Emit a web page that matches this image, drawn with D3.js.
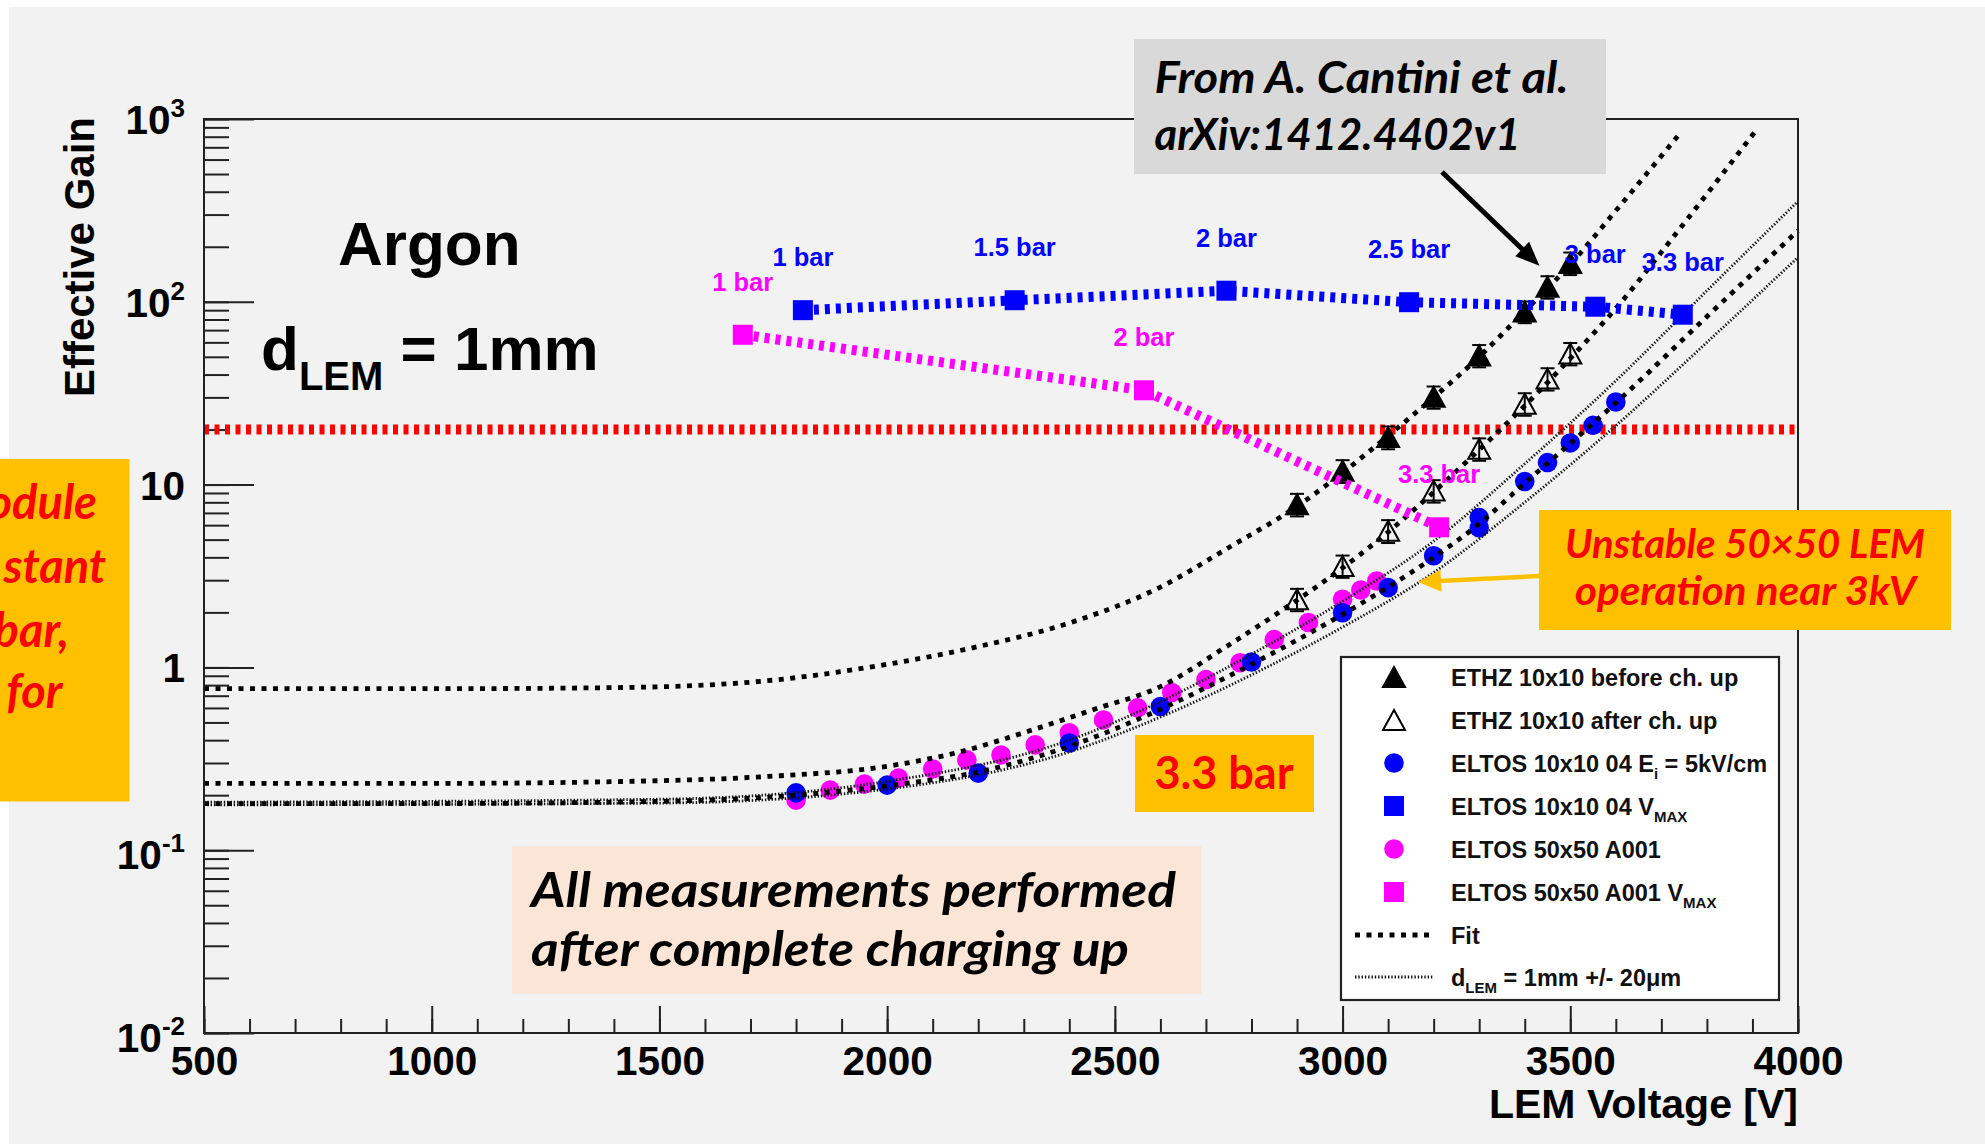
<!DOCTYPE html>
<html><head><meta charset="utf-8">
<script src="https://cdn.jsdelivr.net/npm/d3@7"></script>
<style>body{margin:0;background:#fff;overflow:hidden}svg{display:block}</style>
</head><body>
<svg id="c" width="1985" height="1144"></svg>
<script>
// ---------------- data ----------------
const xMajorTicks = [500,1000,1500,2000,2500,3000,3500,4000];
const yDecades = [0.01,0.1,1,10,100,1000];
const yLabelBase = ["10","10","1","10","10","10"];
const yLabelSup  = ["-2","-1","","","2","3"];

const threshold = 20;

const ethzBeforeV = [2900,3000,3100,3200,3300,3400,3450,3500];
const ethzBeforeG = [7.8,11.9,18.2,30.2,50.9,88.4,121,163];
const ethzBeforeErr = [1.1,1.7,2.6,4.2,7.1,12,17,23];

const ethzAfterV = [2900,3000,3100,3200,3300,3400,3450,3500];
const ethzAfterG = [2.36,3.59,5.59,9.27,15.7,27.7,38.0,52.2];
const ethzAfterErr = [0.33,0.5,0.8,1.3,2.2,3.9,5.3,7.3];

const eltos10V = [1800,2000,2200,2400,2600,2800,3000,3100,3200,3300,3300,3400,3450,3500,3550,3600];
const eltos10G = [0.206,0.227,0.264,0.386,0.611,1.07,1.99,2.73,4.08,5.8,6.6,10.4,13.2,16.9,21.1,28.3];

const eltos50V = [1800,1875,1950,2025,2100,2175,2250,2325,2400,2475,2550,2625,2700,2775,2850,2925,3000,3040,3075];
const eltos50G = [0.188,0.213,0.230,0.248,0.278,0.312,0.332,0.377,0.439,0.516,0.601,0.729,0.857,1.06,1.42,1.76,2.36,2.65,2.97];

const vmax10V = [1815,2280,2745,3146,3555,3747];
const vmax10G = [90,102,115,99.5,94,85];
const vmax10Labels = ["1 bar","1.5 bar","2 bar","2.5 bar","3 bar","3.3 bar"];

const vmax50V = [1683,2564,3212];
const vmax50G = [66,32.8,5.84];
const vmax50Labels = ["1 bar","2 bar","3.3 bar"];

const fitBefore = [[500,0.765],[1000,0.765],[1400,0.775],[1700,0.83],[2000,1.04],[2200,1.3],[2400,1.75],[2600,2.75],[2755,4.6],[2900,7.6],[3000,11.6],[3100,18.5],[3200,30],[3300,50],[3400,89],[3500,160],[3600,315],[3742,840]];
const fitAfter = [[500,0.232],[1000,0.232],[1500,0.24],[1723,0.252],[2016,0.292],[2162,0.346],[2308,0.446],[2455,0.59],[2601,0.787],[2747,1.31],[2864,2.03],[3000,3.5],[3100,5.5],[3200,9.1],[3300,15.5],[3400,27],[3500,49],[3600,92],[3742,254],[3907,861]];
const fitEltos = [[500,0.180],[1000,0.180],[1500,0.185],[1800,0.200],[2000,0.225],[2200,0.268],[2400,0.37],[2600,0.59],[2800,1.04],[3000,1.95],[3100,2.75],[3200,4.0],[3300,6.1],[3400,10.2],[3500,16.8],[3600,28],[3800,83],[4000,245]];
const dUpper = [[500,0.183],[1500,0.19],[2000,0.238],[2400,0.40],[2600,0.65],[2800,1.18],[3000,2.3],[3200,4.9],[3400,13],[3600,37],[3800,115],[4000,355]];
const dLower = [[500,0.177],[1500,0.181],[2000,0.216],[2400,0.345],[2600,0.535],[2800,0.91],[3000,1.66],[3200,3.3],[3400,8.0],[3600,21],[3800,60],[4000,175]];

// ---------------- setup ----------------
const W = 1985, H = 1144;
const HELV = "'Liberation Sans', Arial, Helvetica, sans-serif";
const CAL = "Lato, 'Open Sans', sans-serif";
const svg = d3.select("#c");
svg.append("rect").attr("width",W).attr("height",H).attr("fill","#fff");
svg.append("rect").attr("x",9).attr("y",7).attr("width",W-9).attr("height",H-7).attr("fill","#f2f2f2");

const x = d3.scaleLinear().domain([500,4000]).range([204,1798]);
const y = d3.scaleLog().domain([0.01,1000]).range([1033,119]);
const X0 = x.range()[0], X1 = x.range()[1], Y0 = y.range()[0], Y1 = y.range()[1];

// ---------------- axes ----------------
function styleAxis(g){
  g.select(".domain").remove();
  g.selectAll(".tick line").attr("stroke","#222").attr("stroke-width",2);
  g.selectAll("text").attr("font-family",HELV).attr("font-weight","bold").attr("fill","#000");
}
svg.append("g").attr("transform",`translate(0,${Y0})`)
  .call(d3.axisBottom(x).tickValues(x.ticks(35)).tickSize(-14).tickFormat(""))
  .call(styleAxis);
svg.append("g").attr("transform",`translate(0,${Y0})`)
  .call(d3.axisBottom(x).tickValues(xMajorTicks).tickSize(-27).tickPadding(13).tickFormat(d3.format("d")))
  .call(styleAxis)
  .call(g=>g.selectAll("text").attr("font-size",40.5));
svg.append("g").attr("transform",`translate(${X0},0)`)
  .call(d3.axisLeft(y).tickValues(y.ticks()).tickSize(-25).tickFormat(""))
  .call(styleAxis);
svg.append("g").attr("transform",`translate(${X0},0)`)
  .call(d3.axisLeft(y).tickValues(yDecades).tickSize(-50).tickFormat(""))
  .call(styleAxis);

yDecades.forEach((v,i)=>{
  const t = svg.append("text").attr("x",185).attr("y",y(v)+(v<1?19:15))
    .attr("text-anchor","end").attr("font-family",HELV).attr("font-weight","bold")
    .attr("font-size",40.5).attr("fill","#000");
  t.append("tspan").text(yLabelBase[i]);
  if (yLabelSup[i]) t.append("tspan").attr("font-size",26).attr("dy",-17).text(yLabelSup[i]);
});

svg.append("text").attr("transform",`translate(94,117) rotate(-90)`).attr("text-anchor","end")
  .attr("font-family",HELV).attr("font-weight","bold").attr("font-size",42).text("Effective Gain");
svg.append("text").attr("x",1798).attr("y",1118).attr("text-anchor","end")
  .attr("font-family",HELV).attr("font-weight","bold").attr("font-size",41).text("LEM Voltage [V]");

// ---------------- plot contents ----------------
const plot = svg.append("g");
plot.append("line").attr("x1",X0).attr("x2",X1).attr("y1",y(threshold)).attr("y2",y(threshold))
  .attr("stroke","#ff0000").attr("stroke-width",10).attr("stroke-dasharray","5,5.5");

// magenta circles then blue circles
plot.selectAll(".m50").data(d3.zip(eltos50V,eltos50G)).join("circle")
  .attr("cx",d=>x(d[0])).attr("cy",d=>y(d[1])).attr("r",9.8).attr("fill","#ff00ff");
plot.selectAll(".b10").data(d3.zip(eltos10V,eltos10G)).join("circle")
  .attr("cx",d=>x(d[0])).attr("cy",d=>y(d[1])).attr("r",9.8).attr("fill","#0000ff");

function triangles(V,G,E,filled){
  const g = plot.append("g").attr("stroke","#000").attr("stroke-width",2);
  d3.zip(V,G,E).forEach(([v,gn,e])=>{
    const cx = x(v), cy = y(gn), yt = y(gn+e), yb = y(gn-e);
    g.append("line").attr("x1",cx).attr("x2",cx).attr("y1",yt).attr("y2",yb);
    g.append("line").attr("x1",cx-7).attr("x2",cx+7).attr("y1",yt).attr("y2",yt);
    g.append("line").attr("x1",cx-7).attr("x2",cx+7).attr("y1",yb).attr("y2",yb);
    g.append("path").attr("d",`M${cx},${cy-10}L${cx+11},${cy+10}L${cx-11},${cy+10}Z`)
      .attr("fill",filled?"#000":"none").attr("stroke-linejoin","miter");
  });
}
triangles(ethzBeforeV,ethzBeforeG,ethzBeforeErr,true);
triangles(ethzAfterV,ethzAfterG,ethzAfterErr,false);

const line = d3.line().x(d=>x(d[0])).y(d=>y(d[1])).curve(d3.curveMonotoneX);
[dUpper,dLower].forEach(c=>plot.append("path").attr("d",line(c)).attr("fill","none")
  .attr("stroke","#111").attr("stroke-width",2.8).attr("stroke-dasharray","1.4,1.9"));
[fitBefore,fitAfter,fitEltos].forEach(c=>plot.append("path").attr("d",line(c)).attr("fill","none")
  .attr("stroke","#000").attr("stroke-width",4.8).attr("stroke-dasharray","5,6.5"));

const vline = d3.line().x(d=>x(d[0])).y(d=>y(d[1]));
function vmax(V,G,labels,color){
  const pts = d3.zip(V,G);
  plot.append("path").attr("d",vline(pts)).attr("fill","none").attr("stroke",color)
    .attr("stroke-width",10).attr("stroke-dasharray","5,6");
  plot.selectAll(null).data(pts).join("rect")
    .attr("x",d=>x(d[0])-10).attr("y",d=>y(d[1])-10).attr("width",20).attr("height",20).attr("fill",color);
  plot.selectAll(null).data(pts).join("text")
    .attr("x",d=>x(d[0])).attr("y",d=>y(d[1])-44).attr("text-anchor","middle")
    .attr("font-family",HELV).attr("font-weight","bold").attr("font-size",25.5).attr("fill",color)
    .text((d,i)=>labels[i]);
}
vmax(vmax50V,vmax50G,vmax50Labels,"#ff00ff");
vmax(vmax10V,vmax10G,vmax10Labels,"#0000ff");

// frame
svg.append("rect").attr("x",X0).attr("y",Y1).attr("width",X1-X0).attr("height",Y0-Y1)
  .attr("fill","none").attr("stroke","#222").attr("stroke-width",2);

// ---------------- texts inside plot ----------------
svg.append("text").attr("x",338).attr("y",265).attr("font-family",HELV).attr("font-weight","bold")
  .attr("font-size",62).text("Argon");
const dl = svg.append("text").attr("x",261).attr("y",370).attr("font-family",HELV).attr("font-weight","bold").attr("font-size",62);
dl.append("tspan").text("d");
dl.append("tspan").attr("font-size",40).attr("dy",20).text("LEM");
dl.append("tspan").attr("dy",-20).text(" = 1mm");

// ---------------- annotations ----------------
function box(x0,y0,w,h,fill){ svg.append("rect").attr("x",x0).attr("y",y0).attr("width",w).attr("height",h).attr("fill",fill); }
function ctext(str,xx,yy,size,color,opts={}){
  const t = svg.append("text").attr("x",xx).attr("y",yy).attr("font-family",CAL).attr("font-weight","bold")
    .attr("font-style",opts.italic===false?"normal":"italic").attr("font-size",size).attr("fill",color)
    .attr("text-anchor",opts.anchor||"start").text(str);
  if (opts.len) t.attr("textLength",opts.len).attr("lengthAdjust","spacingAndGlyphs");
  return t;
}
function arrow(x1,y1,x2,y2,color,w,hl,hw){
  const dx=x2-x1, dy=y2-y1, L=Math.hypot(dx,dy), ux=dx/L, uy=dy/L, px=-uy, py=ux;
  const bx=x2-ux*hl, by=y2-uy*hl;
  svg.append("line").attr("x1",x1).attr("y1",y1).attr("x2",bx+ux*2).attr("y2",by+uy*2)
    .attr("stroke",color).attr("stroke-width",w);
  svg.append("path").attr("d",`M${x2},${y2}L${bx+px*hw},${by+py*hw}L${bx-px*hw},${by-py*hw}Z`).attr("fill",color);
}

// gray reference box
box(1134,39,472,135,"#d9d9d9");
ctext("From A. Cantini et al.",1154.5,93,44,"#000",{len:414});
ctext("arXiv:1412.4402v1",1154.5,150,44,"#000",{len:366});
arrow(1442,172,1539.5,265.7,"#000",5,24,10);

// unstable box
box(1539,510,412,120,"#ffc000");
ctext("Unstable 50\u00d750 LEM",1565,558,40,"#ff0000",{len:360});
ctext("operation near 3kV",1575,605,40,"#ff0000",{len:341});
arrow(1539,576,1418,582,"#ffc000",4.5,23,11);

// left box, cut at the page edge as in the original
box(0,459,129.5,342.5,"#ffc000");
ctext("odule",97,519,47,"#ff0000",{anchor:"end"});
ctext("stant",106,583,47,"#ff0000",{anchor:"end"});
ctext("bar,",69,647,47,"#ff0000",{anchor:"end"});
ctext("for",62.5,708,47,"#ff0000",{anchor:"end"});

// 3.3 bar box
box(1135,735,179,77,"#ffc000");
ctext("3.3 bar",1224,789,46,"#ff0000",{anchor:"middle",italic:false,len:139});

// pink box
box(512,846,689,148,"#fbe5d6");
ctext("All measurements performed",531,907,48,"#000",{len:645});
ctext("after complete charging up",531,966,48,"#000",{len:598});

// ---------------- legend ----------------
const lg = svg.append("g");
lg.append("rect").attr("x",1341).attr("y",657).attr("width",438).attr("height",343)
  .attr("fill","#fff").attr("stroke","#222").attr("stroke-width",2.2);
const ly = [677,720,763,806,849,892,935,977];
const mx = 1394, tx = 1451;
function ltext(i){ return lg.append("text").attr("x",tx).attr("y",ly[i]+8.5).attr("font-family",HELV)
  .attr("font-weight","bold").attr("font-size",23.5).attr("fill","#111"); }
lg.append("path").attr("d",`M${mx},${ly[0]-10}L${mx+11},${ly[0]+10}L${mx-11},${ly[0]+10}Z`).attr("fill","#000").attr("stroke","#000").attr("stroke-width",2);
ltext(0).text("ETHZ 10x10 before ch. up");
lg.append("path").attr("d",`M${mx},${ly[1]-10}L${mx+11},${ly[1]+10}L${mx-11},${ly[1]+10}Z`).attr("fill","none").attr("stroke","#000").attr("stroke-width",2);
ltext(1).text("ETHZ 10x10 after ch. up");
lg.append("circle").attr("cx",mx).attr("cy",ly[2]).attr("r",9.8).attr("fill","#0000ff");
let t = ltext(2); t.append("tspan").text("ELTOS 10x10 04 E"); t.append("tspan").attr("font-size",15).attr("dy",7).text("i"); t.append("tspan").attr("dy",-7).text(" = 5kV/cm");
lg.append("rect").attr("x",mx-10).attr("y",ly[3]-10).attr("width",20).attr("height",20).attr("fill","#0000ff");
t = ltext(3); t.append("tspan").text("ELTOS 10x10 04 V"); t.append("tspan").attr("font-size",15).attr("dy",7).text("MAX");
lg.append("circle").attr("cx",mx).attr("cy",ly[4]).attr("r",9.8).attr("fill","#ff00ff");
ltext(4).text("ELTOS 50x50 A001");
lg.append("rect").attr("x",mx-10).attr("y",ly[5]-10).attr("width",20).attr("height",20).attr("fill","#ff00ff");
t = ltext(5); t.append("tspan").text("ELTOS 50x50 A001 V"); t.append("tspan").attr("font-size",15).attr("dy",7).text("MAX");
lg.append("line").attr("x1",1355).attr("x2",1433).attr("y1",ly[6]).attr("y2",ly[6]).attr("stroke","#000").attr("stroke-width",4.8).attr("stroke-dasharray","5,6.5");
ltext(6).text("Fit");
lg.append("line").attr("x1",1355).attr("x2",1433).attr("y1",ly[7]).attr("y2",ly[7]).attr("stroke","#111").attr("stroke-width",2.8).attr("stroke-dasharray","1.4,1.9");
t = ltext(7); t.append("tspan").text("d"); t.append("tspan").attr("font-size",15).attr("dy",7).text("LEM"); t.append("tspan").attr("dy",-7).text(" = 1mm +/- 20\u03bcm");
</script>
</body></html>
